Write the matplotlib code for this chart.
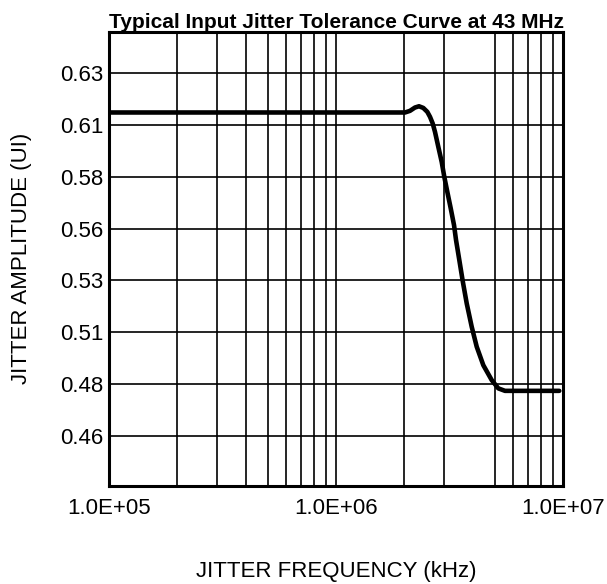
import matplotlib
matplotlib.use("Agg")
import matplotlib.pyplot as plt
from matplotlib.ticker import FixedLocator, NullFormatter

plt.rcParams["font.family"] = ["Liberation Sans", "DejaVu Sans"]

# Jitter tolerance curve (kHz, UI)
freq = [1.0e5, 1.0e6, 2.014e6, 2.118e6, 2.228e6, 2.321e6, 2.424e6, 2.525e6,
        2.595e6, 2.667e6, 2.730e6, 2.823e6, 2.922e6, 3.000e6, 3.093e6,
        3.202e6, 3.311e6, 3.379e6, 3.494e6, 3.615e6, 3.766e6, 3.962e6,
        4.168e6, 4.456e6, 4.852e6, 5.188e6, 5.553e6, 9.63e6]
amp = [0.6161, 0.6161, 0.6161, 0.6169, 0.6185, 0.6191, 0.6183, 0.6164,
       0.6140, 0.6108, 0.6067, 0.5995, 0.5922, 0.5850, 0.5778,
       0.5698, 0.5617, 0.5545, 0.5448, 0.5348, 0.5239, 0.5126,
       0.5030, 0.4941, 0.4869, 0.4829, 0.4817, 0.4817]

# axis ticks / grid
x_major = [1e5, 1e6, 1e7]
x_major_labels = ["1.0E+05", "1.0E+06", "1.0E+07"]
x_minor = [2e5, 3e5, 4e5, 5e5, 6e5, 7e5, 8e5, 9e5,
           2e6, 3e6, 5e6, 6e6, 7e6, 8e6, 9e6]
y_ticks = [0.46, 0.485, 0.51, 0.535, 0.56, 0.585, 0.61, 0.635]
y_labels = ["0.46", "0.48", "0.51", "0.53", "0.56", "0.58", "0.61", "0.63"]

fig = plt.figure(figsize=(6.07, 5.84), dpi=100)
ax = fig.add_axes([0.1796, 0.1683, 0.7479, 0.7774])

ax.plot(freq, amp, color="black", linewidth=3.3, solid_joinstyle="round",
        solid_capstyle="round", zorder=3)

ax.set_xscale("log")
ax.set_xlim(1e5, 1e7)
ax.set_ylim(0.4359, 0.6551)

ax.xaxis.set_major_locator(FixedLocator(x_major))
ax.xaxis.set_minor_locator(FixedLocator(x_minor))
ax.xaxis.set_minor_formatter(NullFormatter())
ax.set_xticks(x_major, x_major_labels)
ax.set_yticks(y_ticks, y_labels)

ax.grid(True, which="both", color="black", linewidth=1.2)
ax.tick_params(which="both", length=0, labelsize=16)
ax.tick_params(axis="x", pad=9)
ax.tick_params(axis="y", pad=4)
for s in ax.spines.values():
    s.set_linewidth(2.2)

ax.set_title("Typical Input Jitter Tolerance Curve at 43 MHz",
             fontsize=15, fontweight="bold", pad=3)
ax.set_xlabel("JITTER FREQUENCY (kHz)", fontsize=16, labelpad=30)
ax.set_ylabel("JITTER AMPLITUDE (UI)", fontsize=16)
ax.yaxis.set_label_coords(-0.17, 0.5)

plt.savefig("out.png", dpi=100)
